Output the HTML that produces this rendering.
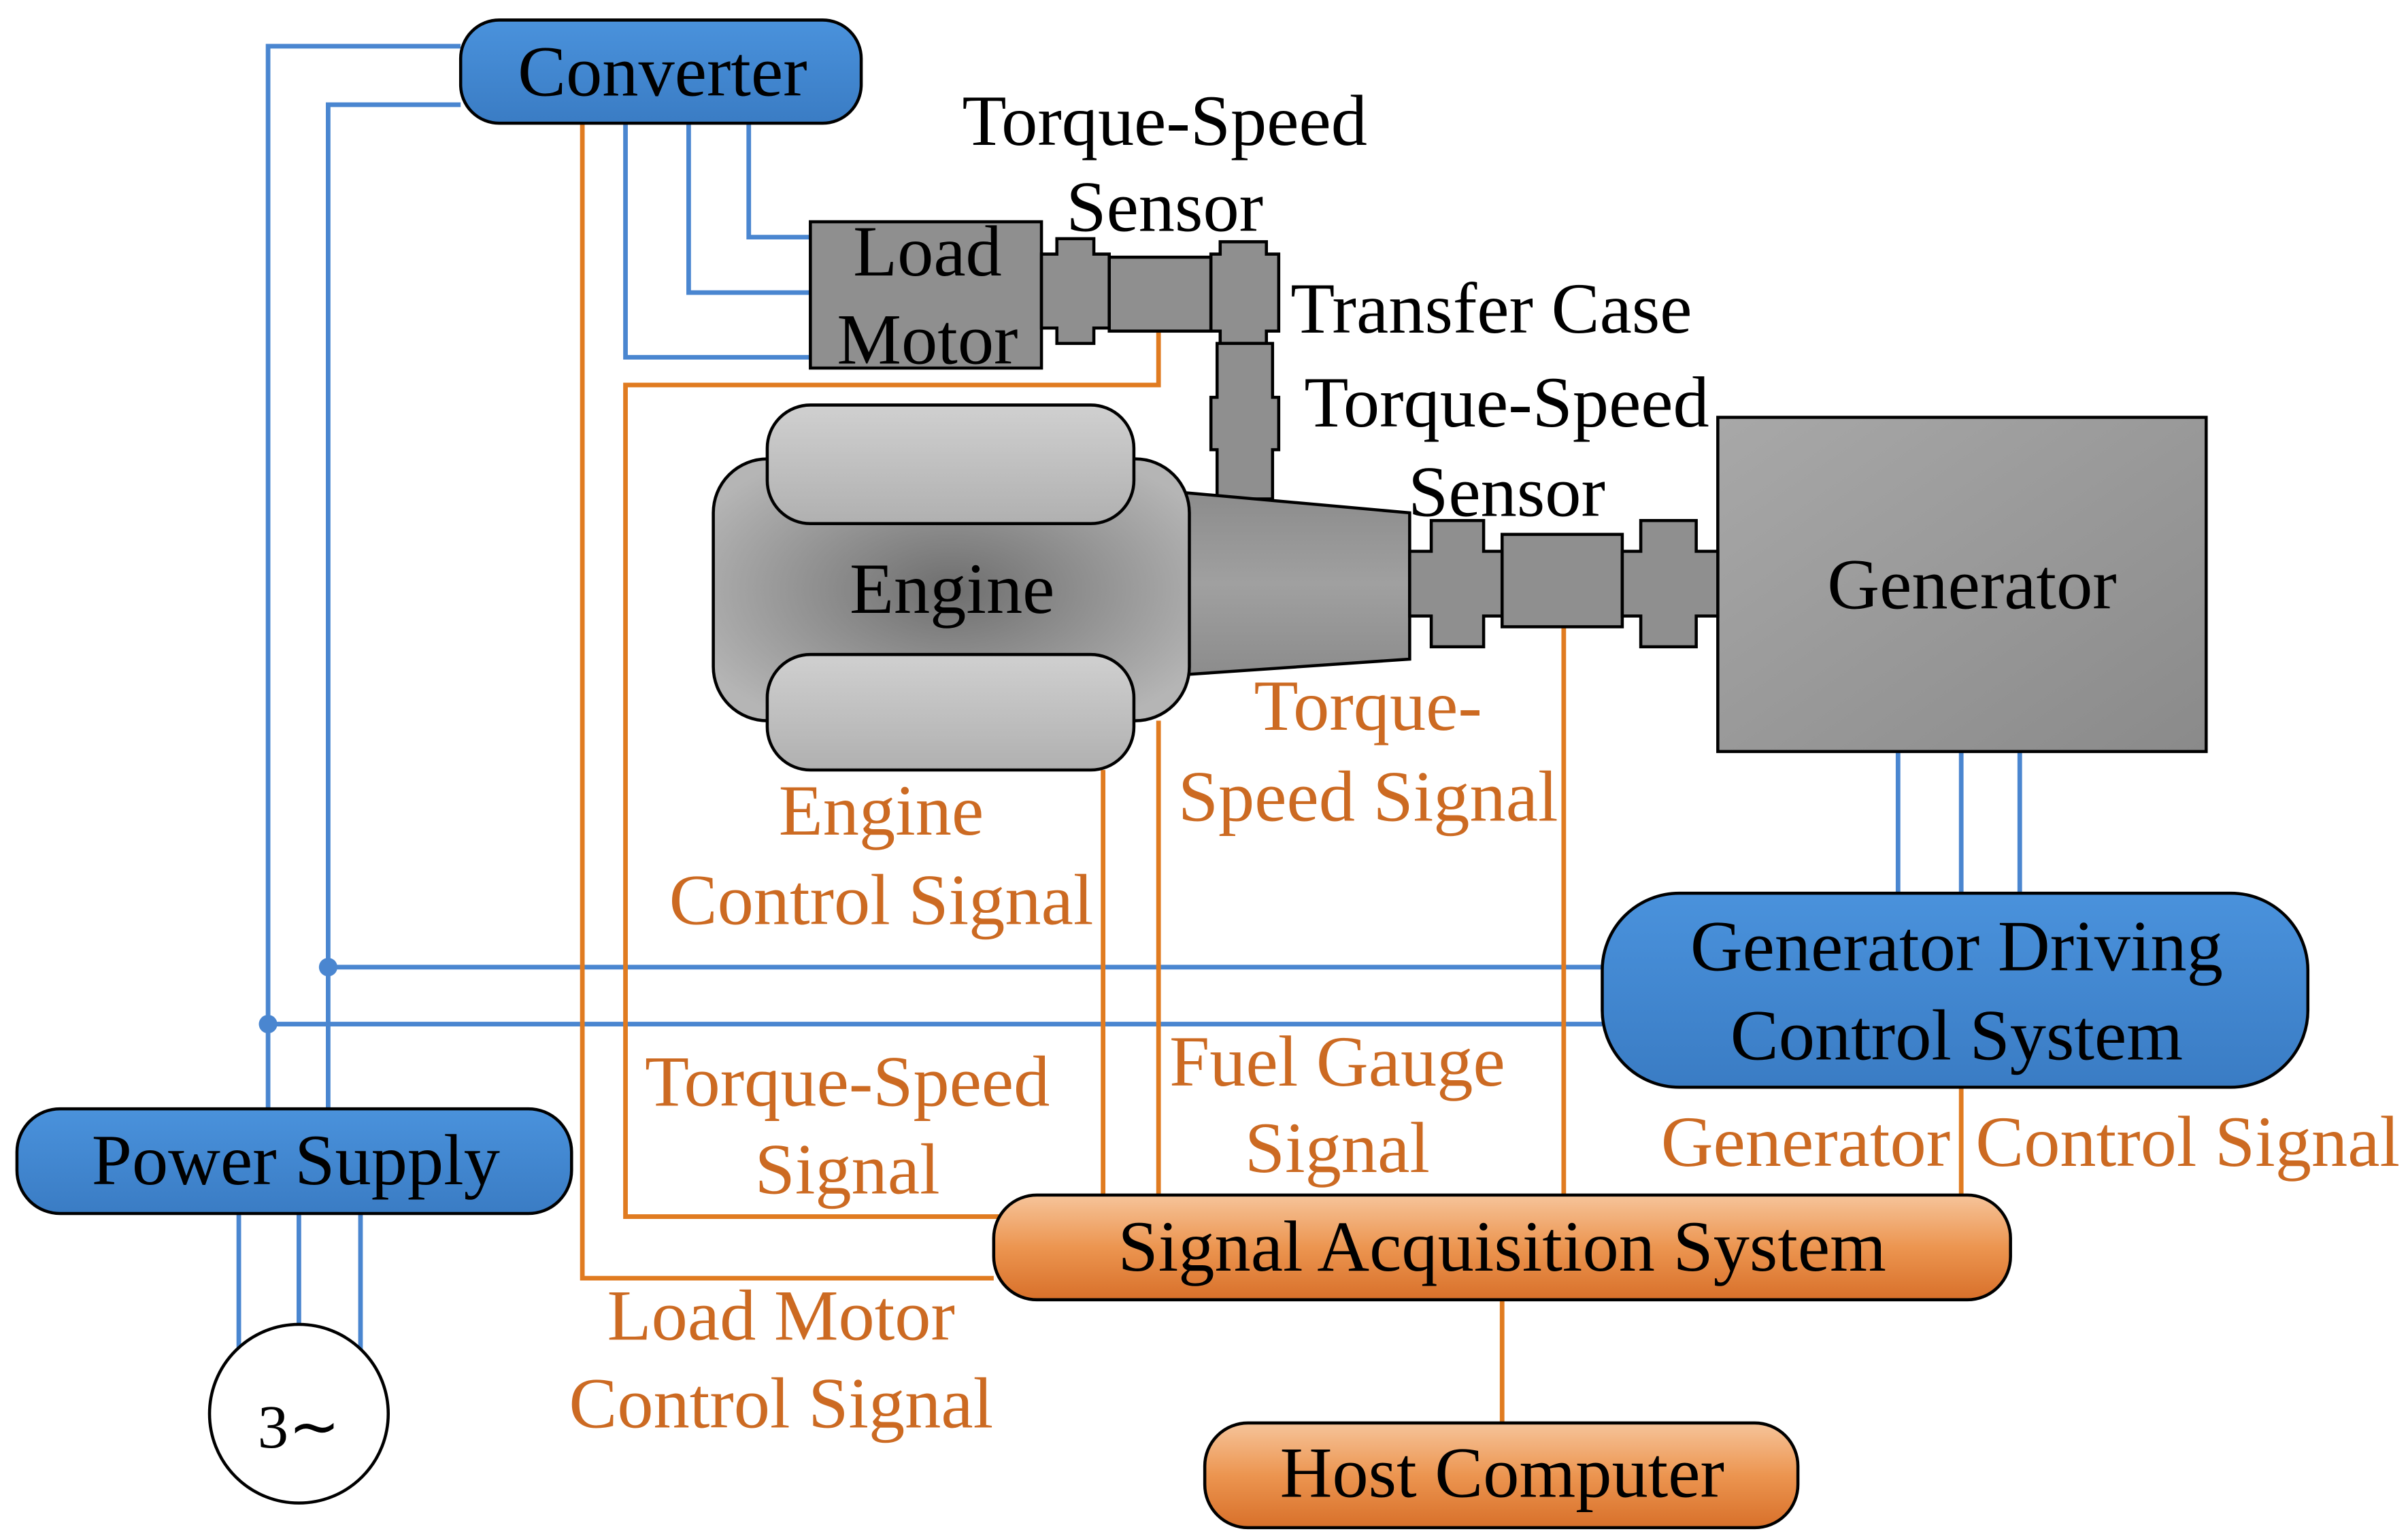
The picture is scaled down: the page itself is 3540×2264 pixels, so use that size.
<!DOCTYPE html>
<html><head><meta charset="utf-8"><style>html,body{margin:0;padding:0;background:#fff}svg{display:block}</style></head>
<body>
<svg width="3540" height="2264" viewBox="0 0 1563 1000" preserveAspectRatio="none" xmlns="http://www.w3.org/2000/svg" font-family="Liberation Serif, serif" font-size="47">
<defs>
<linearGradient id="blue" x1="0" y1="0" x2="0" y2="1"><stop offset="0" stop-color="#4a92dc"/><stop offset="1" stop-color="#3a7cc4"/></linearGradient>
<linearGradient id="orng" x1="0" y1="0" x2="0" y2="1"><stop offset="0" stop-color="#f6c49a"/><stop offset="0.5" stop-color="#ec9550"/><stop offset="1" stop-color="#d8702a"/></linearGradient>
<linearGradient id="gen" x1="0" y1="0" x2="1" y2="1"><stop offset="0" stop-color="#a8a8a8"/><stop offset="1" stop-color="#8a8a8a"/></linearGradient>
<radialGradient id="eng" cx="0.5" cy="0.5" r="0.6"><stop offset="0" stop-color="#6e6e6e"/><stop offset="1" stop-color="#b5b5b5"/></radialGradient>
<linearGradient id="cyl" x1="0" y1="0" x2="0" y2="1"><stop offset="0" stop-color="#d0d0d0"/><stop offset="1" stop-color="#b0b0b0"/></linearGradient>
<linearGradient id="taper" x1="0" y1="0" x2="0" y2="1"><stop offset="0" stop-color="#8c8c8c"/><stop offset="0.5" stop-color="#a0a0a0"/><stop offset="1" stop-color="#8c8c8c"/></linearGradient>
</defs>
<g fill="none" stroke="#4a86d0" stroke-width="3">
<polyline points="299,30 174,30 174,720"/>
<polyline points="299,68 213,68 213,720"/>
<polyline points="486,80 486,154 526,154"/>
<polyline points="447,80 447,190 526,190"/>
<polyline points="406,80 406,232 526,232"/>
<line x1="213" y1="628" x2="1040" y2="628"/>
<line x1="174" y1="665" x2="1040" y2="665"/>
<line x1="1232" y1="488" x2="1232" y2="580"/>
<line x1="1273" y1="488" x2="1273" y2="580"/>
<line x1="1311" y1="488" x2="1311" y2="580"/>
<line x1="155" y1="788" x2="155" y2="880"/>
<line x1="194" y1="788" x2="194" y2="862"/>
<line x1="234" y1="788" x2="234" y2="880"/>
</g>
<circle cx="213" cy="628" r="6" fill="#4a86d0"/>
<circle cx="174" cy="665" r="6" fill="#4a86d0"/>
<g fill="none" stroke="#e07b20" stroke-width="3">
<polyline points="378,80 378,830 645,830"/>
<polyline points="752,215 752,250 406,250 406,790 660,790"/>
<line x1="752" y1="468" x2="752" y2="776"/>
<line x1="716" y1="500" x2="716" y2="776"/>
<line x1="1015" y1="407" x2="1015" y2="776"/>
<line x1="1273" y1="706" x2="1273" y2="776"/>
<line x1="975" y1="844" x2="975" y2="924"/>
</g>
<g stroke="#000" stroke-width="2">
<rect x="299" y="13" width="260" height="67" rx="25" fill="url(#blue)"/>
<rect x="11" y="720" width="360" height="68" rx="28" fill="url(#blue)"/>
<rect x="1040" y="580" width="458" height="126" rx="50" fill="url(#blue)"/>
<rect x="645" y="776" width="660" height="68" rx="28" fill="url(#orng)"/>
<rect x="782" y="924" width="385" height="68" rx="28" fill="url(#orng)"/>
<circle cx="194" cy="918" r="58" fill="#fff"/>
<rect x="1115" y="271" width="317" height="217" fill="url(#gen)"/>
<rect x="526" y="144" width="150" height="95" fill="#8f8f8f"/>
<path d="M676,165 h10 v-10 h24 v10 h10 v48 h-10 v10 h-24 v-10 h-10z" fill="#8f8f8f"/>
<rect x="720" y="167" width="66" height="48" fill="#8f8f8f"/>
<path d="M786,165 h6 v-8 h30 v8 h8 v50 h-8 v8 h-30 v-8 h-6z" fill="#8f8f8f"/>
<path d="M790,223 h36 v35 h4 v34 h-4 v32 h-36 v-32 h-4 v-34 h4z" fill="#8f8f8f"/>
<path d="M770,320 L915,333 L915,428 L770,438z" fill="url(#taper)"/>
<rect x="463" y="298" width="309" height="170" rx="35" fill="url(#eng)"/>
<rect x="498" y="263" width="238" height="77" rx="28" fill="url(#cyl)"/>
<rect x="498" y="425" width="238" height="75" rx="28" fill="url(#cyl)"/>
<path d="M915,358 h14 v-20 h34 v20 h12 v42 h-12 v20 h-34 v-20 h-14z" fill="#8f8f8f"/>
<rect x="975" y="347" width="78" height="60" fill="#8f8f8f"/>
<path d="M1053,358 h12 v-20 h36 v20 h14 v42 h-14 v20 h-36 v-20 h-12z" fill="#8f8f8f"/>
</g>
<g text-anchor="middle" fill="#000">
<text x="430" y="62">Converter</text>
<text x="192" y="769">Power Supply</text>
<text x="1270" y="630">Generator Driving</text>
<text x="1270" y="688">Control System</text>
<text x="975" y="825">Signal Acquisition System</text>
<text x="975" y="972">Host Computer</text>
<text x="194" y="940" font-size="40">3∼</text>
<text x="1280" y="395">Generator</text>
<text x="602" y="179">Load</text>
<text x="602" y="236">Motor</text>
<text x="618" y="398">Engine</text>
<text x="756" y="94">Torque-Speed</text>
<text x="756" y="150">Sensor</text>
<text x="968" y="216">Transfer Case</text>
<text x="978" y="277">Torque-Speed</text>
<text x="978" y="335">Sensor</text>
</g>
<g text-anchor="middle" fill="#cc6a22">
<text x="572" y="542">Engine</text>
<text x="572" y="600">Control Signal</text>
<text x="888" y="474">Torque-</text>
<text x="888" y="533">Speed Signal</text>
<text x="550" y="718">Torque-Speed</text>
<text x="550" y="775">Signal</text>
<text x="868" y="705">Fuel Gauge</text>
<text x="868" y="761">Signal</text>
<text x="1172" y="757">Generator</text>
<text x="1420" y="757">Control Signal</text>
<text x="507" y="870">Load Motor</text>
<text x="507" y="927">Control Signal</text>
</g>
</svg>
</body></html>
